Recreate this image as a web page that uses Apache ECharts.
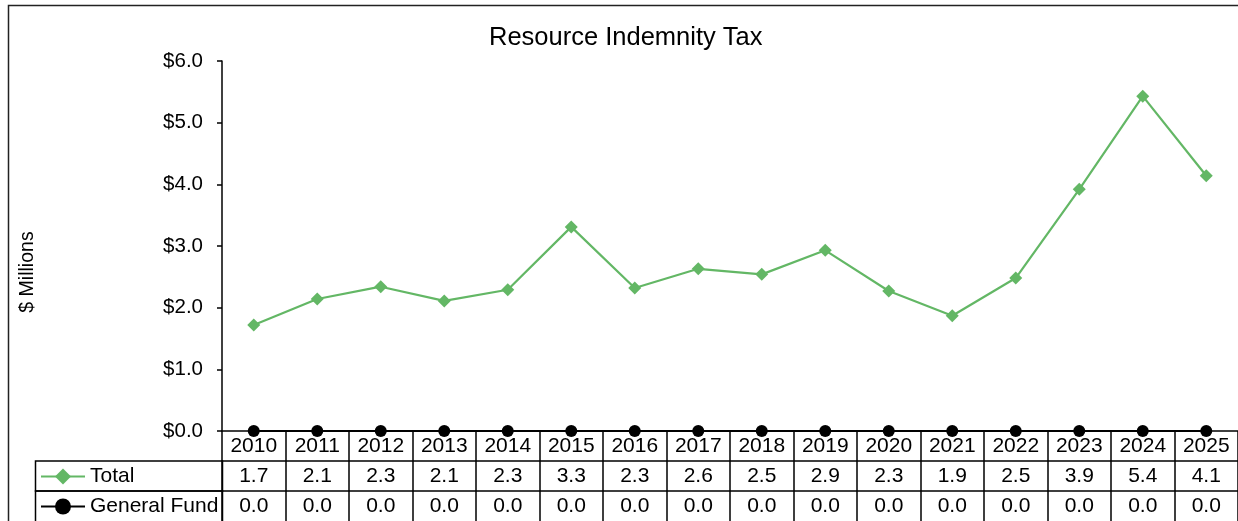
<!DOCTYPE html>
<html>
<head>
<meta charset="utf-8">
<script src="https://cdn.jsdelivr.net/npm/echarts@6/dist/echarts.min.js"></script>
<style>
html,body{margin:0;padding:0;background:#fff;}
#chart{width:1238px;height:521px;}
</style>
</head>
<body>
<div id="chart"></div>
<script>
var years = ['2010','2011','2012','2013','2014','2015','2016','2017','2018','2019','2020','2021','2022','2023','2024','2025'];
var totalValues = [1.72, 2.14, 2.34, 2.11, 2.29, 3.31, 2.32, 2.63, 2.54, 2.93, 2.27, 1.87, 2.48, 3.92, 5.43, 4.14];
var generalFundValues = [0,0,0,0,0,0,0,0,0,0,0,0,0,0,0,0];
var yTicks = [0, 1, 2, 3, 4, 5, 6];

var FONT = 'Liberation Sans, Arial, sans-serif';
var GREEN = '#63B765';

var chart = echarts.init(document.getElementById('chart'));
var lblBase = {color:'#000', fontFamily:FONT, fontSize:21, interval:0};

chart.setOption({
  animation:false,
  backgroundColor:'#fff',
  title:{
    text:'Resource Indemnity Tax',
    left:484, top:20,
    textStyle:{color:'#000', fontFamily:FONT, fontSize:25.5, fontWeight:'normal'}
  },
  legend:[
    {data:['Total'], left:35, top:461, padding:5, itemWidth:44, itemHeight:20, itemGap:3,
     textStyle:{color:'#000', fontFamily:FONT, fontSize:21}},
    {data:['General Fund'], left:35, top:491, padding:5, itemWidth:44, itemHeight:20, itemGap:3,
     textStyle:{color:'#000', fontFamily:FONT, fontSize:21}}
  ],
  grid:{left:222, top:61, right:-3, bottom:90, containLabel:false},
  xAxis:[
    {type:'category', data:years, boundaryGap:true, position:'bottom',
     axisLine:{show:true, lineStyle:{color:'#000', width:1.5}},
     axisTick:{show:true, interval:0, length:92, lineStyle:{color:'#000', width:1.5}},
     axisLabel:Object.assign({margin:5}, lblBase)},
    {type:'category', data:years, boundaryGap:true, position:'bottom', offset:30,
     axisLine:{show:true, lineStyle:{color:'#000', width:1.5}},
     axisTick:{show:false},
     axisLabel:Object.assign({margin:5, formatter:function(v, i){return totalValues[i].toFixed(1);}}, lblBase)},
    {type:'category', data:years, boundaryGap:true, position:'bottom', offset:60,
     axisLine:{show:true, lineStyle:{color:'#000', width:1.5}},
     axisTick:{show:false},
     axisLabel:Object.assign({margin:5, formatter:function(v, i){return generalFundValues[i].toFixed(1);}}, lblBase)}
  ],
  yAxis:{
    type:'value', min:yTicks[0], max:yTicks[yTicks.length-1], interval:1,
    name:'$ Millions', nameLocation:'middle', nameGap:184, nameRotate:90,
    nameTextStyle:{color:'#000', fontFamily:FONT, fontSize:19.5, padding:[0,52,0,0]},
    axisLine:{show:true, lineStyle:{color:'#000', width:1.5}},
    axisTick:{show:true, length:5, lineStyle:{color:'#000', width:1.5}},
    splitLine:{show:false},
    axisLabel:{color:'#000', fontFamily:FONT, fontSize:20.5, margin:19,
      formatter:function(v){return '$' + v.toFixed(1);}}
  },
  graphic:[
    {type:'rect', z:0, shape:{x:8.5, y:5.5, width:1300, height:600},
     style:{fill:null, stroke:'#222', lineWidth:1.5}, silent:true},
    {type:'rect', z:0, shape:{x:35.5, y:461, width:187, height:30},
     style:{fill:null, stroke:'#000', lineWidth:1.5}, silent:true},
    {type:'rect', z:0, shape:{x:35.5, y:491, width:187, height:40},
     style:{fill:null, stroke:'#000', lineWidth:1.5}, silent:true}
  ],
  series:[
    {name:'Total', type:'line', data:totalValues, xAxisIndex:0,
     symbol:'diamond', symbolSize:13, showAllSymbol:true,
     lineStyle:{color:GREEN, width:2.2}, itemStyle:{color:GREEN}, z:3},
    {name:'General Fund', type:'line', data:generalFundValues, xAxisIndex:0,
     symbol:'circle', symbolSize:12, showAllSymbol:true,
     lineStyle:{color:'#000', width:2.2}, itemStyle:{color:'#000'}, z:4}
  ]
});
</script>
</body>
</html>
